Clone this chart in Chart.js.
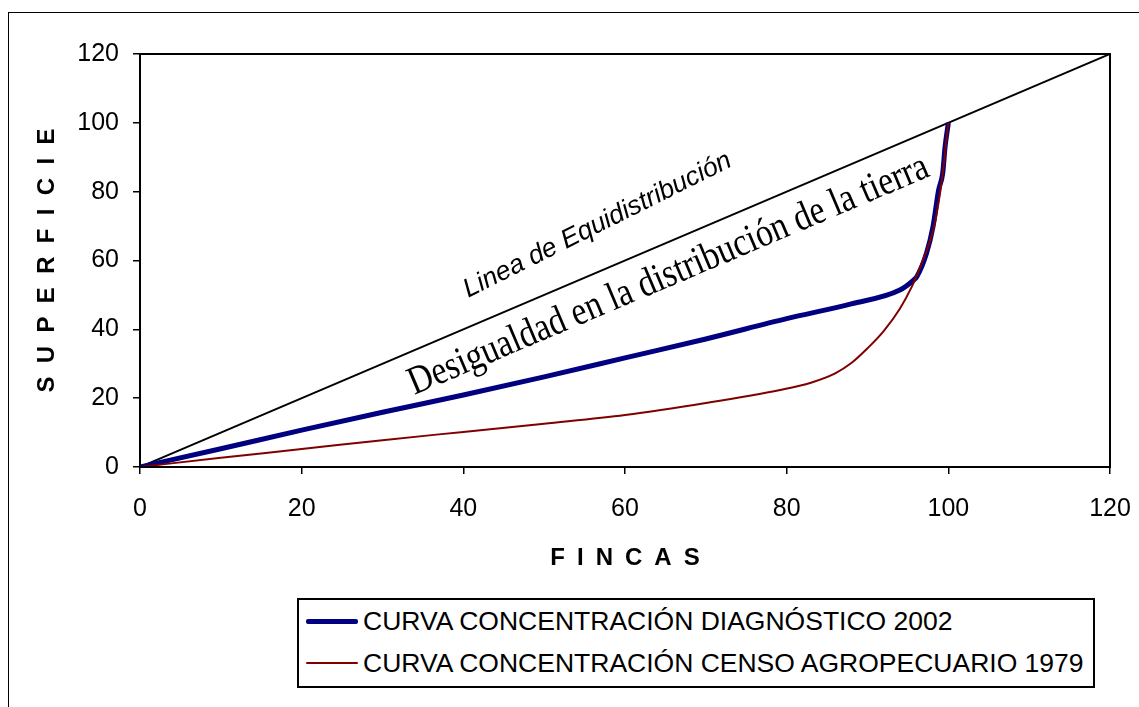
<!DOCTYPE html>
<html>
<head>
<meta charset="utf-8">
<title>Curva de concentración</title>
<script src="https://cdn.jsdelivr.net/npm/chart.js@4.4.1/dist/chart.umd.min.js"></script>
<style>
  html, body { margin: 0; padding: 0; background: #fff; overflow: hidden; }
  #wrap { position: relative; width: 1139px; height: 707px; }
  #frame { position: absolute; left: 8px; top: 12px; width: 1200px; height: 800px; border: 1px solid #000; }
  #chart { position: absolute; left: 0; top: 0; }
  #legend { position: absolute; left: 297px; top: 598px; width: 794px; height: 86px;
            border: 2px solid #000; background: #fff;
            font-family: Arial, "Liberation Sans", sans-serif; font-size: 26.5px; color: #000; }
  .row { position: absolute; left: 7px; height: 30px; display: flex; align-items: center; white-space: nowrap; }
  .swatch { width: 52px; margin-right: 5px; }
</style>
</head>
<body>
<div id="wrap">
  <div id="frame"></div>
  <canvas id="chart" width="1139" height="707"></canvas>
  <div id="legend"></div>
</div>
<script>
// eje X (fincas %) y eje Y (superficie %)
const xTicks = [0, 20, 40, 60, 80, 100, 120]
const yTicks = [0, 20, 40, 60, 80, 100, 120]

// curva 2002
const fincas2002 = [0, 10, 20, 30, 40, 50, 60, 70, 80, 88, 94, 95.7, 96.1, 97.3, 98.1, 98.8, 99.3, 99.6, 100]
const sup2002    = [0, 5.3, 10.7, 15.9, 20.9, 26.2, 31.7, 37.2, 43.1, 47.4, 51.4, 54.3, 55.3, 62.1, 69.8, 80.5, 85.3, 93.1, 100]

// curva 1979
const fincas1979 = [0, 10, 20, 30, 40, 50, 60, 70, 79.2, 83, 86, 88, 90, 92, 94, 95.5, 96.5, 97.5, 98.3, 99, 99.5, 99.8, 100]
const sup1979    = [0, 2.7, 5.2, 7.8, 10.2, 12.6, 15.1, 18.6, 22.4, 24.5, 27.2, 30.2, 34.5, 39.5, 46, 52.5, 58, 64, 70.5, 80, 89, 96, 100]

// linea de equidistribucion
const fincasEq = [0, 120]
const supEq    = [0, 120]

const nombres = ["CURVA CONCENTRACIÓN DIAGNÓSTICO 2002", "CURVA CONCENTRACIÓN CENSO AGROPECUARIO 1979"]
const colores = ["#000080", "#800000"]
const grosores = [5, 2]

const toPoints = (xs, ys) => xs.map((x, i) => ({x: x, y: ys[i]}))

// textos sobre el grafico
const notas = [
  {text: "Linea de Equidistribución", x: 56.6, y: 70.3, angle: -26.5, font: 'italic 26.5px Arial, "Liberation Sans", sans-serif'},
  {text: "Desigualdad en la distribución de la tierra", x: 65.4, y: 55.6, angle: -23, font: '40px "Times New Roman", "Liberation Serif", serif', sx: 0.84}
]

const notasPlugin = {
  id: "notas",
  afterDatasetsDraw(chart) {
    const ctx = chart.ctx
    const a = chart.chartArea
    ctx.save()
    ctx.strokeStyle = "#000"
    ctx.lineWidth = 2
    ctx.strokeRect(a.left, a.top, a.right - a.left, a.bottom - a.top)
    ctx.fillStyle = "#000"
    ctx.textAlign = "center"
    ctx.textBaseline = "middle"
    for (const n of notas) {
      const px = chart.scales.x.getPixelForValue(n.x)
      const py = chart.scales.y.getPixelForValue(n.y)
      ctx.save()
      ctx.translate(px, py)
      ctx.rotate(n.angle * Math.PI / 180)
      if (n.sx) ctx.scale(n.sx, 1)
      ctx.font = n.font
      ctx.fillText(n.text, 0, 0)
      ctx.restore()
    }
    ctx.restore()
  }
}

const tickFont = {family: 'Arial, "Liberation Sans", sans-serif', size: 25}
const titleFont = {family: 'Arial, "Liberation Sans", sans-serif', size: 24, weight: "bold"}

new Chart("chart", {
  type: "line",
  data: {
    datasets: [
      {
        label: nombres[1],
        data: toPoints(fincas1979, sup1979),
        borderColor: colores[1],
        borderWidth: grosores[1],
        cubicInterpolationMode: "monotone",
        pointRadius: 0,
        fill: false,
      },
      {
        label: nombres[0],
        data: toPoints(fincas2002, sup2002),
        borderColor: colores[0],
        borderWidth: grosores[0],
        cubicInterpolationMode: "monotone",
        pointRadius: 0,
        fill: false,
      },
      {
        label: "Linea de Equidistribución",
        data: toPoints(fincasEq, supEq),
        borderColor: "#000",
        borderWidth: 2,
        pointRadius: 0,
        fill: false,
      },
    ],
  },
  options: {
    responsive: false,
    animation: false,
    devicePixelRatio: 1,
    layout: { padding: {left: 33, top: 54, right: 29, bottom: 134} },
    plugins: { legend: { display: false }, tooltip: { enabled: false } },
    scales: {
      x: {
        type: "linear",
        min: 0, max: 120,
        afterFit: (s) => { s.height = 106; s.paddingLeft = 0; s.paddingRight = 0 },
        afterBuildTicks: (s) => { s.ticks = xTicks.map(v => ({value: v})) },
        ticks: { color: "#000", font: tickFont, padding: 20, maxRotation: 0 },
        grid: { drawOnChartArea: false, drawTicks: true, tickLength: 7, color: "#000", lineWidth: 1.5 },
        border: { display: true, color: "#000", width: 2 },
        title: { display: true, text: "F\u2002I\u2002N\u2002C\u2002A\u2002S", color: "#000", font: titleFont, padding: 0 },
      },
      y: {
        type: "linear",
        min: 0, max: 120,
        afterFit: (s) => { s.width = 107 },
        afterBuildTicks: (s) => { s.ticks = yTicks.map(v => ({value: v})) },
        ticks: { color: "#000", font: tickFont, padding: 14 },
        grid: { drawOnChartArea: false, drawTicks: true, tickLength: 7, color: "#000", lineWidth: 1.5 },
        border: { display: true, color: "#000", width: 2 },
        title: { display: true, text: "S  U  P  E  R  F  I  C  I  E", color: "#000", font: titleFont, padding: 0 },
      },
    },
  },
  plugins: [notasPlugin],
})

// leyenda
const legend = document.getElementById("legend")
const tops = [6, 48]
for (let i = 0; i < nombres.length; i++) {
  const row = document.createElement("div")
  row.className = "row"
  row.style.top = tops[i] + "px"
  const sw = document.createElement("span")
  sw.className = "swatch"
  sw.style.borderTop = grosores[i] + "px solid " + colores[i]
  sw.style.borderRadius = "2px"
  row.appendChild(sw)
  row.appendChild(document.createTextNode(nombres[i]))
  legend.appendChild(row)
}
</script>
</body>
</html>
